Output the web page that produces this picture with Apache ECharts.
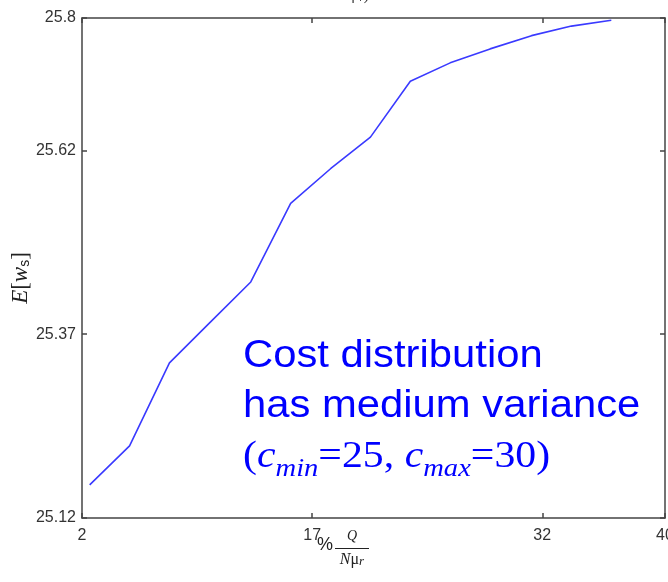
<!DOCTYPE html>
<html>
<head>
<meta charset="utf-8">
<script src="https://cdn.jsdelivr.net/npm/echarts@6/dist/echarts.min.js"></script>
<style>
  html, body { margin: 0; padding: 0; background: #ffffff; }
  #chart { width: 668px; height: 582px; }
</style>
</head>
<body>
<div id="chart"></div>
<script>
// Share of queue capacity (%Q / Nμr) against expected waiting cost E[w_s]
var xValues = [2.5, 5.1, 7.7, 10.3, 13.0, 15.6, 18.2, 20.8, 23.4, 26.0, 28.6, 31.3, 33.9, 36.5];
var yValues = [25.165, 25.218, 25.331, 25.385, 25.441, 25.548, 25.595, 25.638, 25.714, 25.739, 25.758, 25.776, 25.789, 25.797];
var xTicks = [2, 17, 32, 40];
var yTicks = [25.12, 25.37, 25.62, 25.8];

var points = xValues.map(function (x, i) { return [x, yValues[i]]; });

var axisLineStyle = { color: '#444444', width: 1.5 };
var tickStyle = { show: true, inside: true, length: 5, lineStyle: { color: '#444444', width: 1.5 } };
var labelFont = { fontFamily: 'Liberation Sans, Arial, sans-serif', fontSize: 16, color: '#333333' };

function xAxisDef(pos, withLabels) {
  return {
    type: 'value', position: pos, min: 2, max: 40,
    axisLine: { show: true, onZero: false, lineStyle: axisLineStyle },
    axisTick: Object.assign({ customValues: xTicks }, tickStyle),
    axisLabel: Object.assign({ show: withLabels, customValues: xTicks, margin: 10, hideOverlap: false,
      showMinLabel: true, showMaxLabel: true }, labelFont),
    splitLine: { show: false }
  };
}
function yAxisDef(pos, withLabels) {
  return {
    type: 'value', position: pos, min: 25.12, max: 25.8,
    axisLine: { show: true, onZero: false, lineStyle: axisLineStyle },
    axisTick: Object.assign({ customValues: yTicks }, tickStyle),
    axisLabel: Object.assign({ show: withLabels, customValues: yTicks, margin: 6, hideOverlap: false,
      showMinLabel: true, showMaxLabel: true }, labelFont),
    splitLine: { show: false }
  };
}

var serif = 'Liberation Serif, Times New Roman, serif';
var sans = 'Liberation Sans, Arial, sans-serif';
var blue = '#0000ff';
var ink = '#222222';

var chart = echarts.init(document.getElementById('chart'), null, { renderer: 'canvas' });
chart.setOption({
  backgroundColor: '#ffffff',
  animation: false,
  grid: { left: 82, top: 18, right: 3, bottom: 64, containLabel: false, outerBoundsMode: 'none' },
  xAxis: [xAxisDef('bottom', true), xAxisDef('top', false)],
  yAxis: [yAxisDef('left', true), yAxisDef('right', false)],
  series: [{
    type: 'line',
    xAxisIndex: 0, yAxisIndex: 0,
    data: points,
    showSymbol: false,
    lineStyle: { color: '#3a3aff', width: 1.6 }
  }],
  graphic: [
    // y-axis title E[w_s]
    {
      type: 'text', x: 21, y: 278, rotation: Math.PI / 2,
      style: {
        text: '{i|E}{r|[}{i|w}{s|s}{r|]}',
        align: 'center', verticalAlign: 'middle',
        rich: {
          i: { fontFamily: serif, fontStyle: 'italic', fontSize: 23, fill: ink },
          r: { fontFamily: serif, fontSize: 23, fill: ink },
          s: { fontFamily: sans, fontSize: 14, fill: ink, verticalAlign: 'bottom', lineHeight: 12 }
        }
      }
    },
    // x-axis title: % Q / (N μ_r)
    {
      type: 'text', x: 325, y: 545,
      style: { text: '%', fontFamily: sans, fontSize: 18, fill: ink,
        align: 'center', verticalAlign: 'middle' }
    },
    {
      type: 'text', x: 352, y: 536,
      style: { text: 'Q', fontFamily: serif, fontStyle: 'italic', fontSize: 14, fill: ink,
        align: 'center', verticalAlign: 'middle' }
    },
    {
      type: 'line', shape: { x1: 335, y1: 548.5, x2: 369, y2: 548.5 },
      style: { stroke: ink, lineWidth: 1.2 }
    },
    {
      type: 'text', x: 352, y: 560,
      style: {
        text: '{i|N}{r|μ}{s|r}',
        align: 'center', verticalAlign: 'middle',
        rich: {
          i: { fontFamily: serif, fontStyle: 'italic', fontSize: 16, fill: ink },
          r: { fontFamily: serif, fontSize: 16, fill: ink },
          s: { fontFamily: serif, fontStyle: 'italic', fontSize: 13, fill: ink, verticalAlign: 'bottom', lineHeight: 10 }
        }
      }
    },
    // clipped caption fragment along the top edge
    {
      type: 'text', x: 355, y: -4,
      style: {
        text: '{i|N}{r|μ}{s|r}{r|)}',
        align: 'center', verticalAlign: 'middle',
        rich: {
          i: { fontFamily: serif, fontStyle: 'italic', fontSize: 15, fill: '#333' },
          r: { fontFamily: serif, fontSize: 15, fill: '#333' },
          s: { fontFamily: serif, fontStyle: 'italic', fontSize: 11, fill: '#333', verticalAlign: 'bottom', lineHeight: 10 }
        }
      }
    },
    // annotation
    {
      type: 'text', x: 243, y: 332, scaleX: 1.1,
      style: {
        text: '{a|Cost distribution}\n{a|has medium variance}\n{p|(}{c|c}{sub|min}{p|=25, }{c|c}{sub|max}{p|=30)}',
        align: 'left', verticalAlign: 'top', fill: blue,
        rich: {
          a: { fontFamily: sans, fontSize: 38, lineHeight: 50, fill: blue },
          p: { fontFamily: serif, fontSize: 38, lineHeight: 50, fill: blue },
          c: { fontFamily: serif, fontStyle: 'italic', fontSize: 38, lineHeight: 50, fill: blue },
          sub: { fontFamily: serif, fontStyle: 'italic', fontSize: 26, lineHeight: 18, verticalAlign: 'bottom', fill: blue }
        }
      }
    }
  ]
});
</script>
</body>
</html>
